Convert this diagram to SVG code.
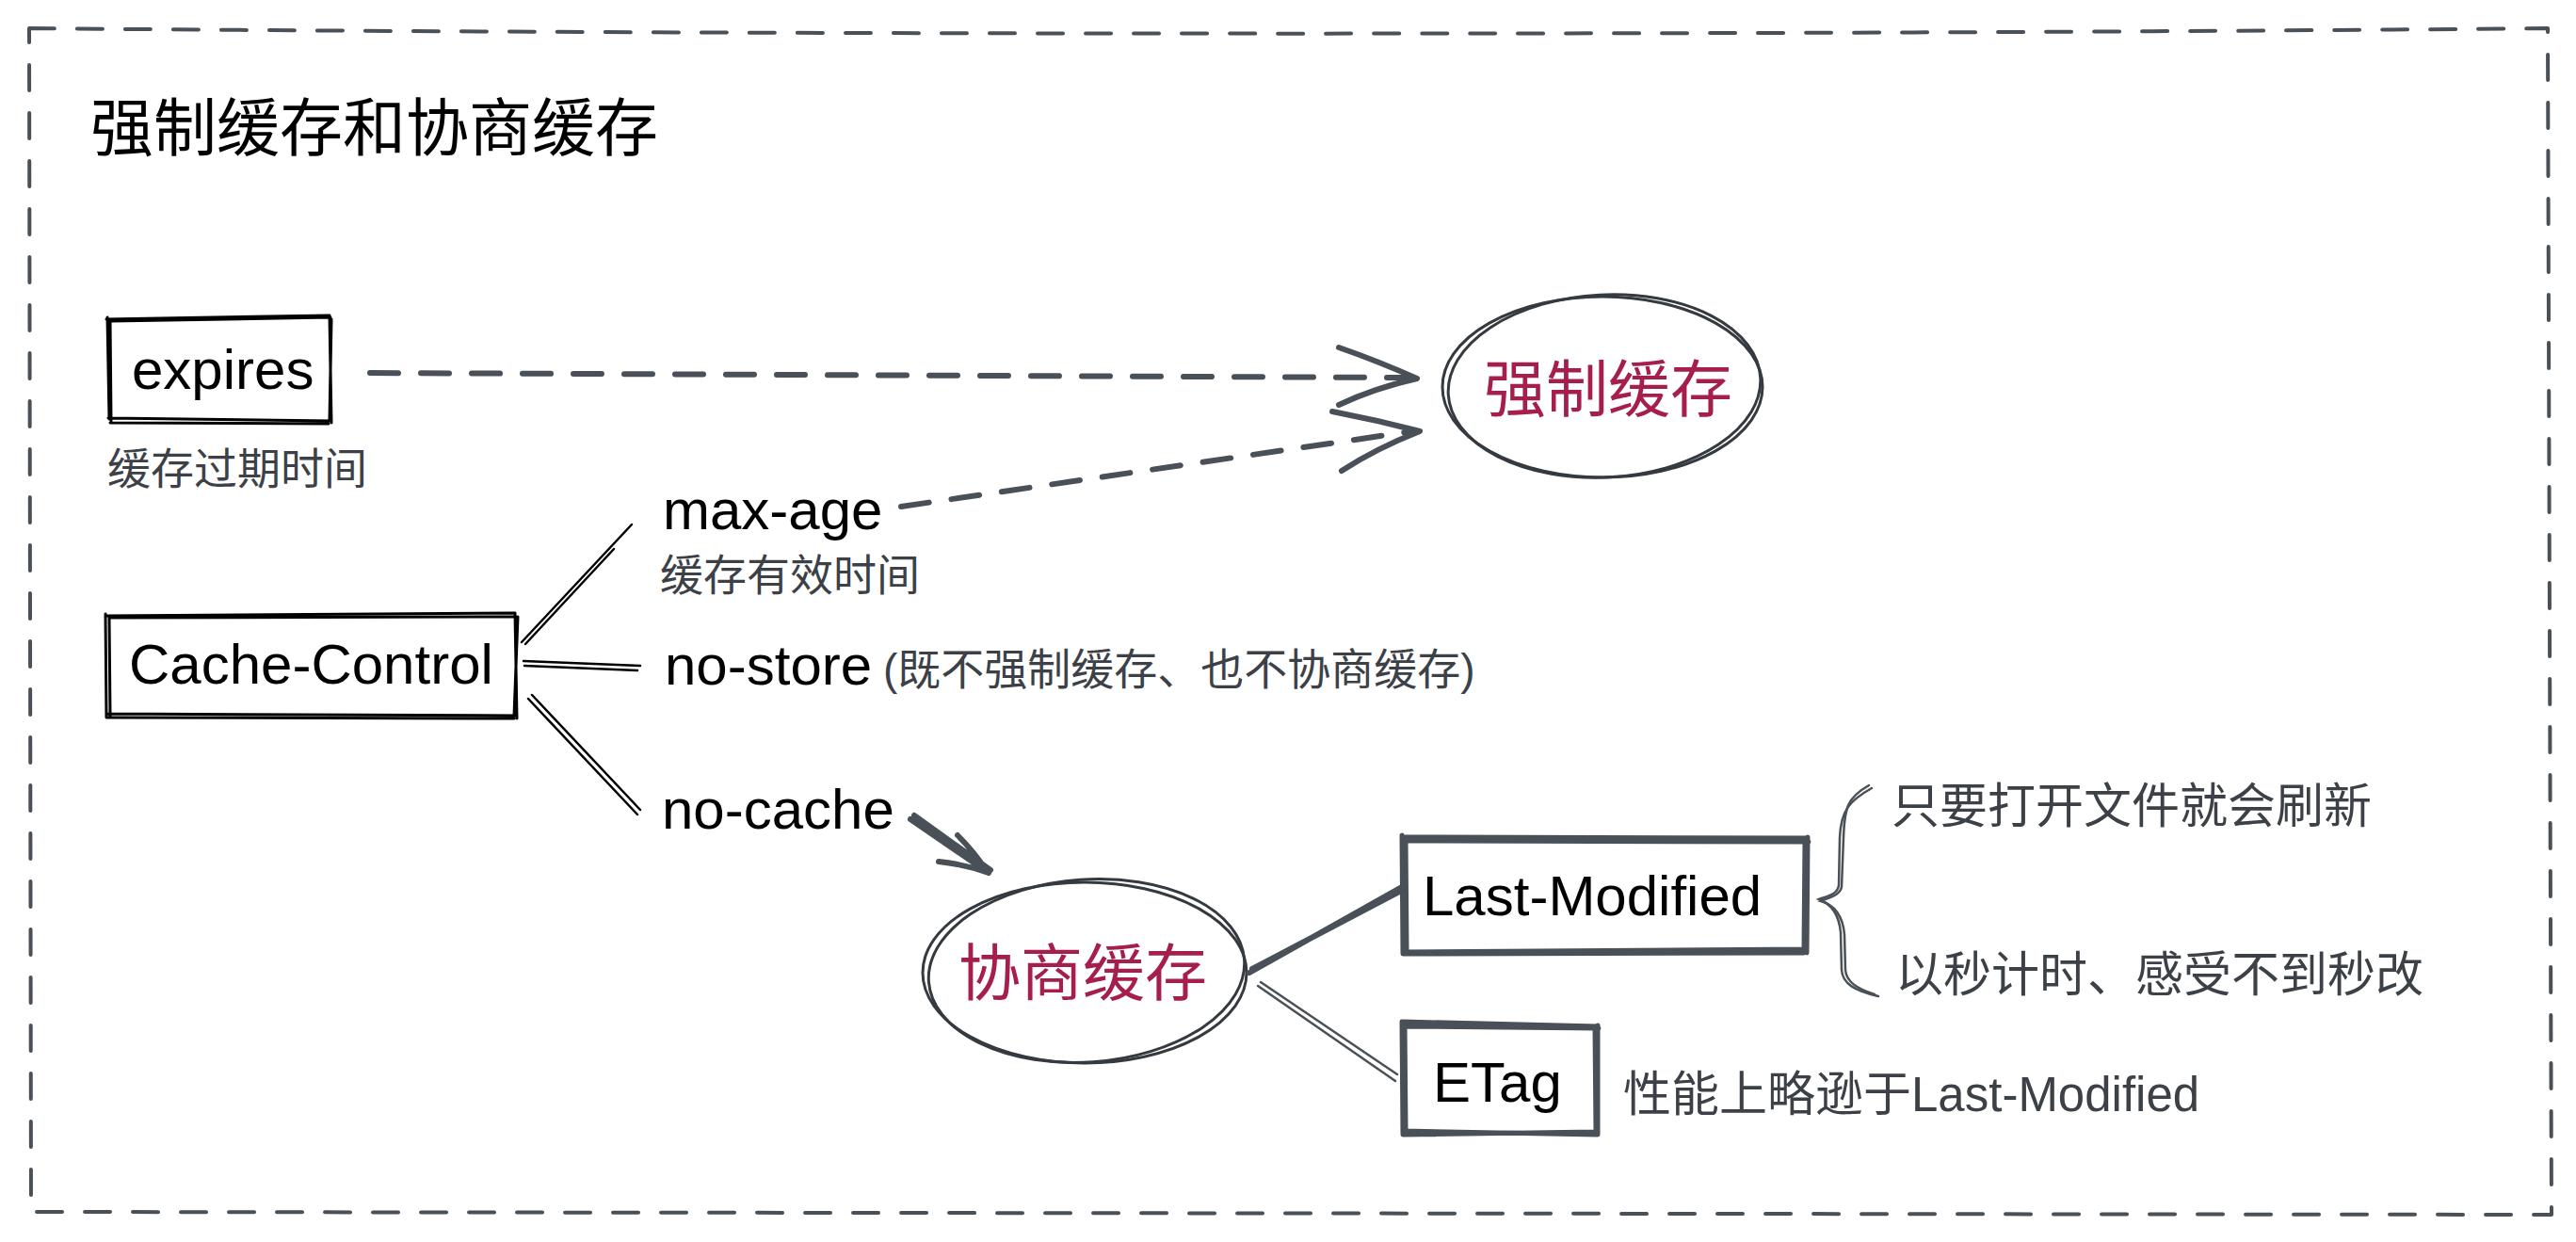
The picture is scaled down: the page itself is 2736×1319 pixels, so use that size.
<svg xmlns="http://www.w3.org/2000/svg" width="2736" height="1319" viewBox="0 0 2736 1319">
<style>
.bg{fill:#ffffff}
.border{fill:none;stroke:#495057;stroke-width:4;stroke-dasharray:27 24;stroke-linecap:round;stroke-linejoin:round}
.blk{fill:none;stroke:#000000;stroke-width:3;stroke-linecap:round}
.gbox{fill:none;stroke:#495057;stroke-width:5;stroke-linecap:round}
.ell{fill:none;stroke:#343a40;stroke-width:3}
.dash{fill:none;stroke:#495057;stroke-width:6;stroke-dasharray:30 24;stroke-linecap:round}
.arm{fill:none;stroke:#495057;stroke-width:6;stroke-linecap:round;stroke-linejoin:round}
.thin{fill:none;stroke:#000000;stroke-width:2.5;stroke-linecap:round}
.gthin{fill:none;stroke:#495057;stroke-width:2.5;stroke-linecap:round}
.gthick{fill:none;stroke:#495057;stroke-width:6;stroke-linecap:round}
text{font-family:"Liberation Sans","Noto Sans CJK SC",sans-serif}
.node{font-size:60px;fill:#000000}
.title{font-size:67px;fill:#000000}
.red{font-size:66px;fill:#a61e4d}
.sub{font-size:46px;fill:#3c4148}
.note{font-size:51px;fill:#3c4148}
</style>
<rect class="bg" x="0" y="0" width="2736" height="1319"/>

<g id="frame">
<path class="border" d="M31,30 C900,38 2000,37 2706,30 L2710,1290 L33,1287 Z"/>
<text class="title" x="96" y="160">强制缓存和协商缓存</text>
</g>

<g id="node-expires">
<path class="blk" d="M113,339 L350,335 M118,341 L351,337 M350,336 L352,449 M352,339 L350,446 M351,447 L115,444 M349,450 L117,449 M116,445 L114,337 M118,447 L117,340"/>
<text class="node" x="140" y="413">expires</text>
<text class="sub" x="114" y="514">缓存过期时间</text>
</g>

<g id="node-cache-control">
<path class="blk" d="M112,654 L546,651 M116,656 L548,655 M547,651 L549,763 M550,655 L546,760 M549,760 L113,758 M546,763 L115,762 M113,762 L112,652 M117,760 L116,655"/>
<text class="node" x="137" y="726">Cache-Control</text>
</g>

<g id="node-max-age">
<text class="node" x="704" y="562">max-age</text>
<text class="sub" x="701" y="627">缓存有效时间</text>
</g>

<g id="node-no-store">
<text class="node" x="706" y="727">no-store</text>
<text class="sub" x="938" y="727">(既不强制缓存、也不协商缓存)</text>
</g>

<g id="node-no-cache">
<text class="node" x="703" y="880">no-cache</text>
</g>

<g id="node-force-cache">
<ellipse class="ell" cx="1702" cy="411" rx="170" ry="96"/>
<ellipse class="ell" cx="1704" cy="410" rx="166" ry="97" transform="rotate(-3 1704 410)"/>
<text class="red" x="1708" y="437" text-anchor="middle">强制缓存</text>
</g>

<g id="node-negotiate-cache">
<ellipse class="ell" cx="1152" cy="1033" rx="172" ry="96"/>
<ellipse class="ell" cx="1154" cy="1031" rx="168" ry="97" transform="rotate(-4 1154 1031)"/>
<text class="red" x="1150" y="1057" text-anchor="middle">协商缓存</text>
</g>

<g id="node-last-modified">
<path class="gbox" d="M1489,889 L1920,890 M1492,893 L1921,894 M1920,889 L1919,1012 M1917,893 L1916,1009 M1919,1008 L1490,1011 M1916,1012 L1491,1013 M1490,1013 L1489,887 M1494,1010 L1493,892"/>
<text class="node" x="1511" y="972">Last-Modified</text>
<text class="note" x="2009" y="874">只要打开文件就会刷新</text>
<text class="note" x="2013" y="1053">以秒计时、感受不到秒改</text>
</g>

<g id="node-etag">
<path class="gbox" d="M1489,1085 L1697,1090 M1492,1090 L1698,1092 M1697,1089 L1697,1204 M1694,1092 L1695,1201 M1697,1205 L1490,1201 M1694,1202 L1491,1205 M1490,1205 L1489,1085 M1493,1201 L1492,1090"/>
<text class="node" x="1522" y="1170">ETag</text>
<text class="note" x="1724" y="1180">性能上略逊于Last-Modified</text>
</g>

<g id="connectors">
<path class="dash" d="M393,396 L1500,401"/>
<path class="arm" d="M1422,369 Q1465,384 1505,402 Q1460,412 1422,430"/>
<path class="dash" d="M957,538 L1500,458"/>
<path class="arm" d="M1415,437 Q1462,446 1508,458 Q1462,476 1425,500"/>
<path class="thin" d="M554,682 L671,557 M558,684 L652,583"/>
<path class="thin" d="M556,702 L680,707 M557,707 L677,712"/>
<path class="thin" d="M561,742 L677,865 M565,738 L680,860"/>
<path class="arm" d="M967,870 L1050,927 M971,866 L1052,924 M997,915 Q1025,918 1050,927 M1017,887 Q1035,905 1048,925"/>
<path class="gthick" d="M1327,1033 L1487,943 M1330,1029 L1486,947"/>
<path class="gthin" d="M1336,1047 L1482,1148 M1339,1043 L1484,1141"/>
<path class="gthin" d="M1988,837 C1965,850 1955,860 1954,890 L1953,940 C1952,950 1940,952 1932,955 C1945,960 1953,970 1955,990 L1956,1030 C1957,1045 1970,1052 1995,1058"/>
<path class="gthin" d="M1985,834 C1962,847 1959,858 1958,890 L1956,942 C1954,951 1943,953 1934,957 C1948,961 1957,972 1959,992 L1960,1030 C1961,1043 1973,1050 1991,1056"/>
</g>
</svg>
